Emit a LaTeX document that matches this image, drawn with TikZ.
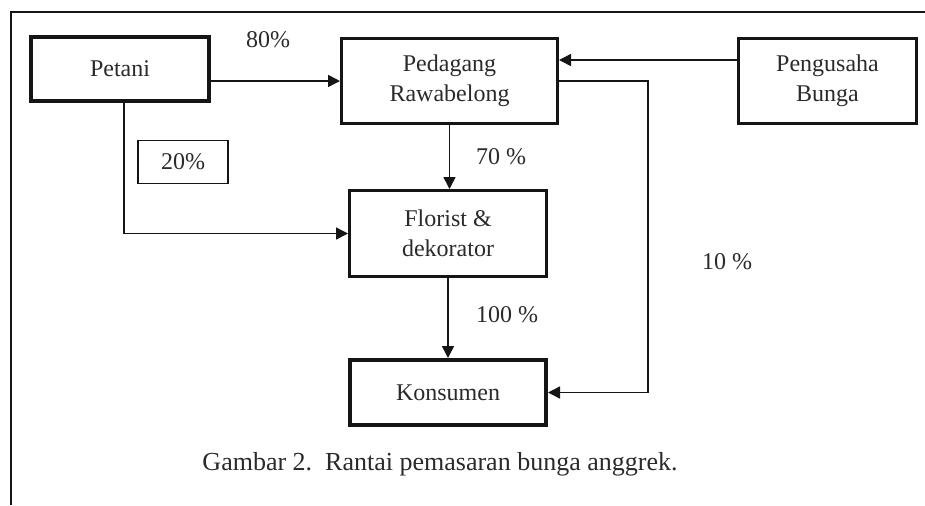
\documentclass[tikz,border=0pt]{standalone}
\usepackage{fontspec}
\setmainfont{Liberation Serif}
\usetikzlibrary{arrows.meta, calc}
\definecolor{chainink}{HTML}{151515}
\definecolor{chaintext}{HTML}{2A2A2A}
\newcommand{\ChainFont}{\fontsize{12}{15}\selectfont}
\newcommand{\ChainCaptionFont}{\fontsize{13}{15}\selectfont}
\tikzset{
  chain box/.style={
    draw=chainink,
    line width=1.5pt,
    align=center,
    inner sep=0pt,
    font=\ChainFont,
    text=chaintext
  },
  chain heavy box/.style={chain box, line width=2pt},
  chain share box/.style={chain box, line width=0.75pt},
  chain arrow/.style={
    -{Triangle[length=6pt,width=6pt]},
    line width=0.75pt,
    draw=chainink
  },
  chain share/.style={font=\ChainFont, text=chaintext},
  chain caption/.style={font=\ChainCaptionFont, text=chaintext}
}

\begin{document}
\begin{tikzpicture}[x=0.5pt,y=-0.5pt]
\useasboundingbox (0,0) rectangle (925,505);
\draw[line width=1pt, chainink] (11,505) -- (11,12) -- (925,12);

\node[chain heavy box, minimum width=89pt, minimum height=32pt] (petani) at (120,69)
  {Petani};
\node[chain box, minimum width=108pt, minimum height=42.5pt] (pedagang) at (449.5,81)
  {Pedagang\\Rawabelong};
\node[chain box, minimum width=89pt, minimum height=42.5pt] (pengusaha) at (827.5,81)
  {Pengusaha\\Bunga};
\node[chain box, minimum width=98.5pt, minimum height=43pt] (florist) at (448,233.5)
  {Florist \&\\dekorator};
\node[chain heavy box, minimum width=98pt, minimum height=32.5pt] (konsumen) at (448,392.5)
  {Konsumen};
\node[chain share box, minimum width=45pt, minimum height=21.5pt] (share20) at (183,162)
  {20\%};

\node[chain share] (share80) at (268,40) {80\%};
\node[chain share] (share70) at (501,157) {70 \%};
\node[chain share] (share100) at (507,315) {100 \%};
\node[chain share] (share10) at (727,262) {10 \%};

\draw[chain arrow] (petani.east |- pedagang.west) -- (pedagang.west);
\draw[chain arrow] ([yshift=10.5pt]pengusaha.west) -- ([yshift=10.5pt]pedagang.east);
\draw[chain arrow] (pedagang.east) -- ++(89,0) |- (konsumen.east);
\draw[chain arrow] (pedagang.south) -- (pedagang.south |- florist.north);
\draw[chain arrow] ([xshift=2pt]petani.south) |- (florist.west);
\draw[chain arrow] (florist.south) -- (florist.south |- konsumen.north);

\node[chain caption] (caption) at (440,464)
  {Gambar 2.\ \ Rantai pemasaran bunga anggrek.};
\end{tikzpicture}
\end{document}
